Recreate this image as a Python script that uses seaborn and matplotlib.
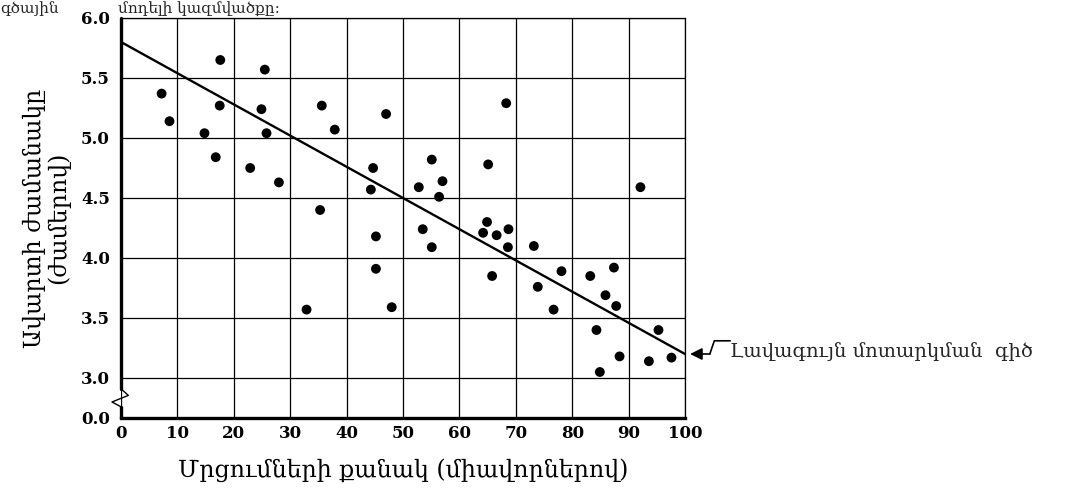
import numpy as np
import matplotlib
matplotlib.use("Agg")
import matplotlib.pyplot as plt
import seaborn as sns

# ------------------------------------------------------------
# Données
# ------------------------------------------------------------
mrcumner = [7.2, 8.6, 17.6, 25.5, 17.5, 24.9, 14.8, 25.8, 35.6, 37.9,
            47.0, 16.8, 22.9, 28.0, 44.7, 44.3, 55.1, 52.8, 57.0, 56.4,
            35.3, 45.2, 45.2, 32.9, 48.0, 53.5, 55.1,
            68.3, 65.1, 92.1, 64.9, 64.2, 66.6, 68.7, 68.6, 73.2, 65.8,
            78.1, 83.2, 87.4, 73.9, 85.9, 87.8, 76.7, 84.3, 95.3,
            88.4, 93.6, 97.6, 84.9]
avarti_zham = [5.37, 5.14, 5.65, 5.57, 5.27, 5.24, 5.04, 5.04, 5.27, 5.07,
               5.20, 4.84, 4.75, 4.63, 4.75, 4.57, 4.82, 4.59, 4.64, 4.51,
               4.40, 4.18, 3.91, 3.57, 3.59, 4.24, 4.09,
               5.29, 4.78, 4.59, 4.30, 4.21, 4.19, 4.24, 4.09, 4.10, 3.85,
               3.89, 3.85, 3.92, 3.76, 3.69, 3.60, 3.57, 3.40, 3.40,
               3.18, 3.14, 3.17, 3.05]

line_x = [0, 100]
line_y = [5.8, 3.2]

x_ticks = [0, 10, 20, 30, 40, 50, 60, 70, 80, 90, 100]
y_ticks = [3.0, 3.5, 4.0, 4.5, 5.0, 5.5, 6.0]
y_break_bottom = 3.0 - 1 / 3  # position du "0.0" sous la coupure

x_label = "Մրցումների քանակ (միավորներով)"
y_label = "Ավարտի ժամանակը\n(ժամերով)"
annot_label = "Լավագույն մոտարկման  գիծ"
top_text_1 = "գծային"
top_text_2 = "մոդելի կազմվածքը։"

# ------------------------------------------------------------
# Figure
# ------------------------------------------------------------
sns.set_theme(style="white")
plt.rcParams["font.family"] = ["DejaVu Serif", "DejaVu Sans"]

fig = plt.figure(figsize=(10.75, 5.04), dpi=100)
ax = fig.add_axes([121 / 1075, 1 - 418 / 504, 564 / 1075, 400 / 504])

sns.scatterplot(x=mrcumner, y=avarti_zham, color="black", s=50,
                edgecolor="none", ax=ax, zorder=3)
sns.lineplot(x=line_x, y=line_y, color="black", lw=1.7, ax=ax, zorder=3)

ax.set_xlim(0, 100)
ax.set_ylim(y_break_bottom, 6.0)
ax.set_xticks(x_ticks)
ax.set_xticklabels([str(t) for t in x_ticks], fontweight="bold", fontsize=12)
ax.set_yticks([y_break_bottom] + y_ticks)
ax.set_yticklabels(["0.0"] + [f"{t:.1f}" for t in y_ticks],
                   fontweight="bold", fontsize=12)
ax.tick_params(axis="x", direction="out", length=5, width=1,
               color="black", pad=0, labelcolor="black")
ax.tick_params(axis="y", direction="out", length=7, width=1,
               color="black", pad=1, labelcolor="black")

ax.grid(True, color="black", lw=0.9)
ax.set_axisbelow(True)

for side in ["top", "right"]:
    ax.spines[side].set_color("black")
    ax.spines[side].set_linewidth(0.9)
ax.spines["bottom"].set_color("black")
ax.spines["bottom"].set_linewidth(2.4)
ax.spines["left"].set_visible(False)

# axe vertical épais avec coupure
ax.plot([0, 0], [6.0, 2.91], color="black", lw=2.4, clip_on=False, zorder=4)
ax.plot([0, 1.3, -1.6, 0], [2.91, 2.855, 2.80, 2.76], color="black",
        lw=1.0, clip_on=False, zorder=4)
ax.plot([0, 0], [2.76, y_break_bottom], color="black", lw=2.4,
        clip_on=False, zorder=4)

ax.set_xlabel(x_label, fontsize=17, labelpad=12, color="black")
ax.set_ylabel(y_label, fontsize=17, labelpad=8, color="black",
              linespacing=1.0)

# flèche + texte "meilleure droite"
ax.annotate("", xy=(100.9, 3.2), xytext=(104.4, 3.2),
            annotation_clip=False,
            arrowprops=dict(arrowstyle="-|>", color="black", lw=1.2,
                            mutation_scale=18, shrinkA=0, shrinkB=0))
ax.plot([104.4, 105.2, 108.0], [3.2, 3.31, 3.31], color="black", lw=1.2,
        clip_on=False)
ax.text(108.0, 3.22, annot_label, fontsize=14, va="center", ha="left")

fig.text(0.0, 1 - 12.5 / 504, top_text_1, fontsize=11, va="baseline", ha="left")
fig.text(118 / 1075, 1 - 12.5 / 504, top_text_2, fontsize=11,
         va="baseline", ha="left")

plt.savefig("out.png", dpi=100)
